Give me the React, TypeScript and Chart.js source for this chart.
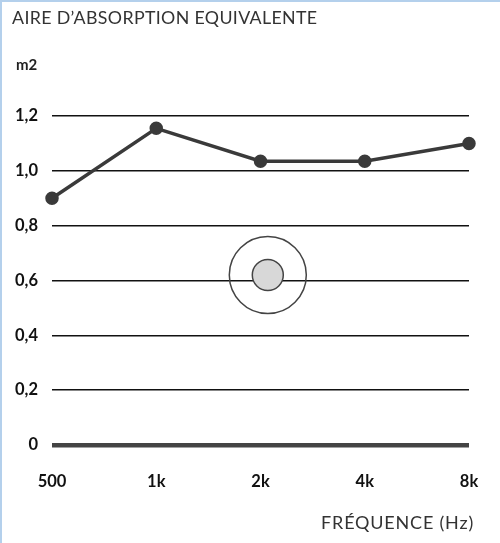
import React, { useEffect, useRef } from "react";
import { Chart, registerables } from "chart.js";

Chart.register(...registerables);

const categories = ["500", "1k", "2k", "4k", "8k"];
const absorption = [0.9, 1.155, 1.035, 1.035, 1.1];
const yTicks = [0, 0.2, 0.4, 0.6, 0.8, 1.0, 1.2];
const iconPosition = [2.07, 0.62];

const FONT = "Lato, 'Noto Sans', sans-serif";
const INK = "#3a3a3a";

const iconPlugin = {
  id: "icon",
  afterDatasetsDraw(chart: any) {
    const { ctx, scales } = chart;
    const cx = scales.x.getPixelForValue(iconPosition[0]);
    const cy = scales.y.getPixelForValue(iconPosition[1]);
    ctx.save();
    ctx.lineWidth = 1.5;
    ctx.strokeStyle = "#444";
    ctx.beginPath();
    ctx.arc(cx, cy, 38.5, 0, Math.PI * 2);
    ctx.stroke();
    ctx.beginPath();
    ctx.arc(cx, cy, 15.5, 0, Math.PI * 2);
    ctx.fillStyle = "#d8d8d8";
    ctx.fill();
    ctx.stroke();
    ctx.restore();
  },
};

export default function App() {
  const ref = useRef<HTMLCanvasElement | null>(null);

  useEffect(() => {
    if (!ref.current) return;
    const chart = new Chart(ref.current, {
      type: "line",
      data: {
        labels: categories,
        datasets: [
          {
            data: absorption,
            borderColor: INK,
            backgroundColor: INK,
            borderWidth: 3.5,
            pointRadius: 5,
            pointHoverRadius: 5,
            pointBackgroundColor: INK,
            pointBorderColor: INK,
            tension: 0,
            clip: false as any,
          },
        ],
      },
      options: {
        animation: false,
        responsive: false,
        devicePixelRatio: 1,
        layout: { padding: { left: 0, top: 116, right: 31, bottom: 38 } },
        plugins: {
          legend: { display: false },
          title: { display: false },
          tooltip: { enabled: false },
        },
        scales: {
          x: {
            type: "category",
            offset: false,
            grid: { display: false },
            border: { display: false },
            ticks: {
              color: "#111",
              padding: 19,
              font: { family: FONT, size: 16.5, weight: "bold" },
              maxRotation: 0,
              autoSkip: false,
            },
            afterFit(scale: any) {
              scale.height = 60;
            },
          },
          y: {
            min: 0,
            max: 1.2,
            afterBuildTicks(scale: any) {
              scale.ticks = yTicks.map((v) => ({ value: v }));
            },
            grid: {
              drawTicks: false,
              color: (c: any) => (c.tick && c.tick.value === 0 ? "#444" : "#111"),
              lineWidth: (c: any) => (c.tick && c.tick.value === 0 ? 4.5 : 1.5),
            },
            border: { display: false },
            ticks: {
              color: "#111",
              padding: 14,
              font: { family: FONT, size: 16.5, weight: "bold" },
              callback: (v: any) => (Number(v) === 0 ? "0" : Number(v).toFixed(1).replace(".", ",")),
            },
            afterFit(scale: any) {
              scale.width = 52;
            },
          },
        },
      },
      plugins: [iconPlugin],
    });
    return () => chart.destroy();
  }, []);

  return (
    <div
      style={{
        position: "fixed",
        left: 0,
        top: 0,
        width: 500,
        height: 543,
        background: "#fff",
        boxSizing: "border-box",
        borderTop: "2px solid #b4d0ec",
        borderLeft: "2px solid #b4d0ec",
        fontFamily: FONT,
        overflow: "hidden",
      }}
    >
      <canvas ref={ref} width={500} height={543} style={{ position: "absolute", left: -2, top: -2 }} />
      <div
        style={{
          position: "absolute",
          left: 10,
          top: 4,
          fontSize: 17.8,
          color: "#333",
          letterSpacing: 0.35,
          whiteSpace: "nowrap",
        }}
      >
        AIRE D’ABSORPTION EQUIVALENTE
      </div>
      <div
        style={{
          position: "absolute",
          left: 14,
          top: 53,
          fontSize: 15,
          fontWeight: "bold",
          color: "#222",
        }}
      >
        m2
      </div>
      <div
        style={{
          position: "absolute",
          right: 26,
          top: 509,
          fontSize: 18,
          color: "#333",
          letterSpacing: 0.8,
          whiteSpace: "nowrap",
        }}
      >
        FRÉQUENCE (Hz)
      </div>
    </div>
  );
}
